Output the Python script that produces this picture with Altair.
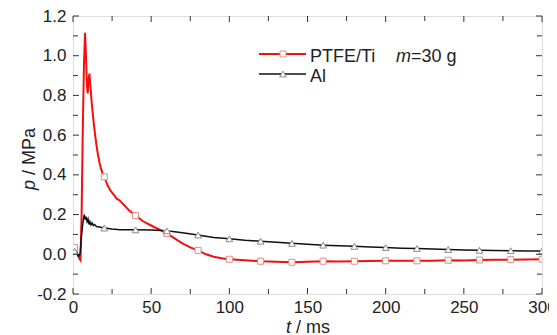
import altair as alt
import pandas as pd

# ---------------- data ----------------
ptfe_t = [0, 1, 2, 3, 4, 4.8, 5.5, 6.2, 7, 7.7, 8.3, 8.9, 9.4, 10, 10.5, 11, 12, 13, 14, 15,
          16, 17, 18, 19, 20, 22, 24, 26, 28, 30, 33, 36, 40, 45, 50, 55, 60, 65, 70, 75,
          80, 85, 90, 95, 100, 110, 120, 130, 140, 150, 160, 170, 180, 190, 200, 210, 220,
          230, 240, 250, 260, 270, 280, 290, 300]
ptfe_p = [0.035, 0.035, 0.02, 0.0, -0.02, -0.03, 0.2, 0.6, 0.95, 1.115, 1.0, 0.85, 0.81, 0.88, 0.91,
          0.86, 0.76, 0.68, 0.61, 0.55, 0.50, 0.46, 0.43, 0.405, 0.39, 0.35, 0.32, 0.30, 0.28,
          0.27, 0.245, 0.22, 0.195, 0.165, 0.145, 0.125, 0.105, 0.08, 0.055, 0.035, 0.02, 0.0,
          -0.012, -0.02, -0.025, -0.03, -0.035, -0.038, -0.04, -0.038, -0.035, -0.036, -0.035,
          -0.034, -0.033, -0.032, -0.033, -0.032, -0.03, -0.031, -0.029, -0.028, -0.027,
          -0.026, -0.025]

al_t = [0, 1, 2, 3, 3.5, 4.5, 5.5, 6.5, 7.2, 7.8, 8.3, 9, 9.6, 10.2, 10.8, 11.5, 12.2, 13,
        13.8, 15, 17, 20, 25, 30, 40, 50, 60, 70, 80, 90, 100, 110, 120, 130, 140, 150,
        160, 170, 180, 190, 200, 210, 220, 230, 240, 250, 260, 270, 280, 290, 300]
al_p = [0.015, 0.015, 0.01, -0.005, -0.01, 0.0, 0.1, 0.17, 0.2, 0.175, 0.19, 0.165, 0.178,
        0.15, 0.165, 0.148, 0.158, 0.145, 0.15, 0.14, 0.137, 0.132, 0.127, 0.124, 0.123,
        0.122, 0.118, 0.108, 0.097, 0.085, 0.078, 0.071, 0.066, 0.06, 0.055, 0.05, 0.046,
        0.043, 0.04, 0.037, 0.034, 0.031, 0.029, 0.027, 0.024, 0.022, 0.02, 0.019, 0.018,
        0.017, 0.016]

marker_t = [1, 20, 40, 60, 80, 100, 120, 140, 160, 180, 200, 220, 240, 260, 280, 300]

x_major = [0, 50, 100, 150, 200, 250, 300]
x_minor = [25, 75, 125, 175, 225, 275]
y_major = [-0.2, 0.0, 0.2, 0.4, 0.6, 0.8, 1.0, 1.2]
y_minor = [-0.1, 0.1, 0.3, 0.5, 0.7, 0.9, 1.1]

# ---------------- layout ----------------
W, H = 469, 278
FONT = "Liberation Sans"
RED = "#f01010"

ptfe = pd.DataFrame({"t": ptfe_t, "p": ptfe_p})
al = pd.DataFrame({"t": al_t, "p": al_p})
ptfe_map = dict(zip(ptfe_t, ptfe_p))
al_map = dict(zip(al_t, al_p))
ptfe_m = pd.DataFrame({"t": marker_t, "p": [ptfe_map[t] for t in marker_t]})
al_m = pd.DataFrame({"t": marker_t, "p": [al_map[t] for t in marker_t]})

xs = alt.Scale(domain=[0, 300], nice=False, zero=False)
ys = alt.Scale(domain=[-0.2, 1.2], nice=False, zero=False)

xaxis = alt.Axis(values=x_major, ticks=False, domain=False, grid=False, title=None,
                 labelFontSize=17, labelFont=FONT, labelColor="#222", labelPadding=5,
                 labelFlush=False, labelOverlap=False)
yaxis = alt.Axis(values=y_major, ticks=False, domain=False, grid=False,
                 title=None, labelFontSize=17, labelFont=FONT, labelColor="#222",
                 labelPadding=7, labelOverlap=False, labelFlush=False,
                 labelExpr="datum.value < -0.001 ? '-' + format(-datum.value, '.1f') : format(abs(datum.value), '.1f')")

def X(f="t"):
    return alt.X(f + ":Q", scale=xs, axis=xaxis)

def Y(f="p"):
    return alt.Y(f + ":Q", scale=ys, axis=yaxis)

red_line = alt.Chart(ptfe).mark_line(color=RED, strokeWidth=2, clip=True).encode(
    x=X(), y=Y(), order="t:Q")
black_line = alt.Chart(al).mark_line(color="#111", strokeWidth=1.5, clip=True).encode(
    x=X(), y=Y(), order="t:Q")
red_pts = alt.Chart(ptfe_m).mark_point(shape="square", filled=True, fill="white",
                                       stroke="#e58a8a", strokeWidth=1, size=36,
                                       opacity=1, clip=True).encode(x=X(), y=Y())
al_pts = alt.Chart(al_m).mark_point(shape="triangle-up", filled=True, fill="white",
                                    stroke="#8a8a8a", strokeWidth=1, size=45,
                                    opacity=1, clip=True).encode(x=X(), y=Y())

# inward ticks on all four sides
def xticks(vals, ln):
    d = pd.DataFrame({"t": vals})
    b = alt.Chart(d).mark_rule(color="#333", strokeWidth=1).encode(
        x=X(), y=alt.value(H), y2=alt.value(H - ln))
    t = alt.Chart(d).mark_rule(color="#333", strokeWidth=1).encode(
        x=X(), y=alt.value(0), y2=alt.value(ln))
    return b + t

def yticks(vals, ln):
    d = pd.DataFrame({"p": vals})
    l = alt.Chart(d).mark_rule(color="#333", strokeWidth=1).encode(
        y=Y(), x=alt.value(0), x2=alt.value(ln))
    r = alt.Chart(d).mark_rule(color="#333", strokeWidth=1).encode(
        y=Y(), x=alt.value(W), x2=alt.value(W - ln))
    return l + r

ticks = xticks(x_major, 6) + xticks(x_minor, 5) + yticks(y_major, 6) + yticks(y_minor, 5)

one = pd.DataFrame({"a": [0]})

def txt(s, x, y, size=18, style="normal", angle=0, align="left", baseline="middle"):
    return alt.Chart(one).mark_text(text=s, font=FONT, fontSize=size, fontStyle=style,
                                    angle=angle, align=align, baseline=baseline,
                                    color="#222").encode(x=alt.value(x), y=alt.value(y))

def hline(x1, x2, y, color, w):
    return alt.Chart(one).mark_rule(color=color, strokeWidth=w).encode(
        x=alt.value(x1), x2=alt.value(x2), y=alt.value(y))

def sym(shape, x, y, stroke, size):
    return alt.Chart(one).mark_point(shape=shape, filled=True, fill="white", stroke=stroke,
                                     strokeWidth=1, size=size, opacity=1).encode(
        x=alt.value(x), y=alt.value(y))

legend = (
    hline(186, 233, 38, RED, 2) + sym("square", 210, 38, "#e58a8a", 36)
    + txt("PTFE/Ti", 237, 41)
    + txt("m", 323, 41, style="italic") + txt("=30 g", 338, 41)
    + hline(186, 233, 58, "#111", 1.5) + sym("triangle-up", 210, 58, "#8a8a8a", 45)
    + txt("Al", 237, 61)
)

titles = (
    txt("p", -43, 174, size=18, style="italic", angle=270, align="left")
    + txt("/ MPa", -43, 159, size=18, angle=270, align="left")
    + txt("t", 213, 317, size=18, style="italic", baseline="alphabetic")
    + txt("/ ms", 223, 317, size=18, baseline="alphabetic")
)

chart = alt.layer(red_line, black_line, red_pts, al_pts, ticks, legend, titles).properties(
    width=W, height=H,
    autosize=alt.AutoSizeParams(type="none"),
    padding={"left": 65, "top": 8, "right": 7, "bottom": 41},
).configure_view(stroke="#333", strokeWidth=1.5).configure(background="white")

chart.save("out.html", embed_options={"renderer": "svg", "actions": False})
